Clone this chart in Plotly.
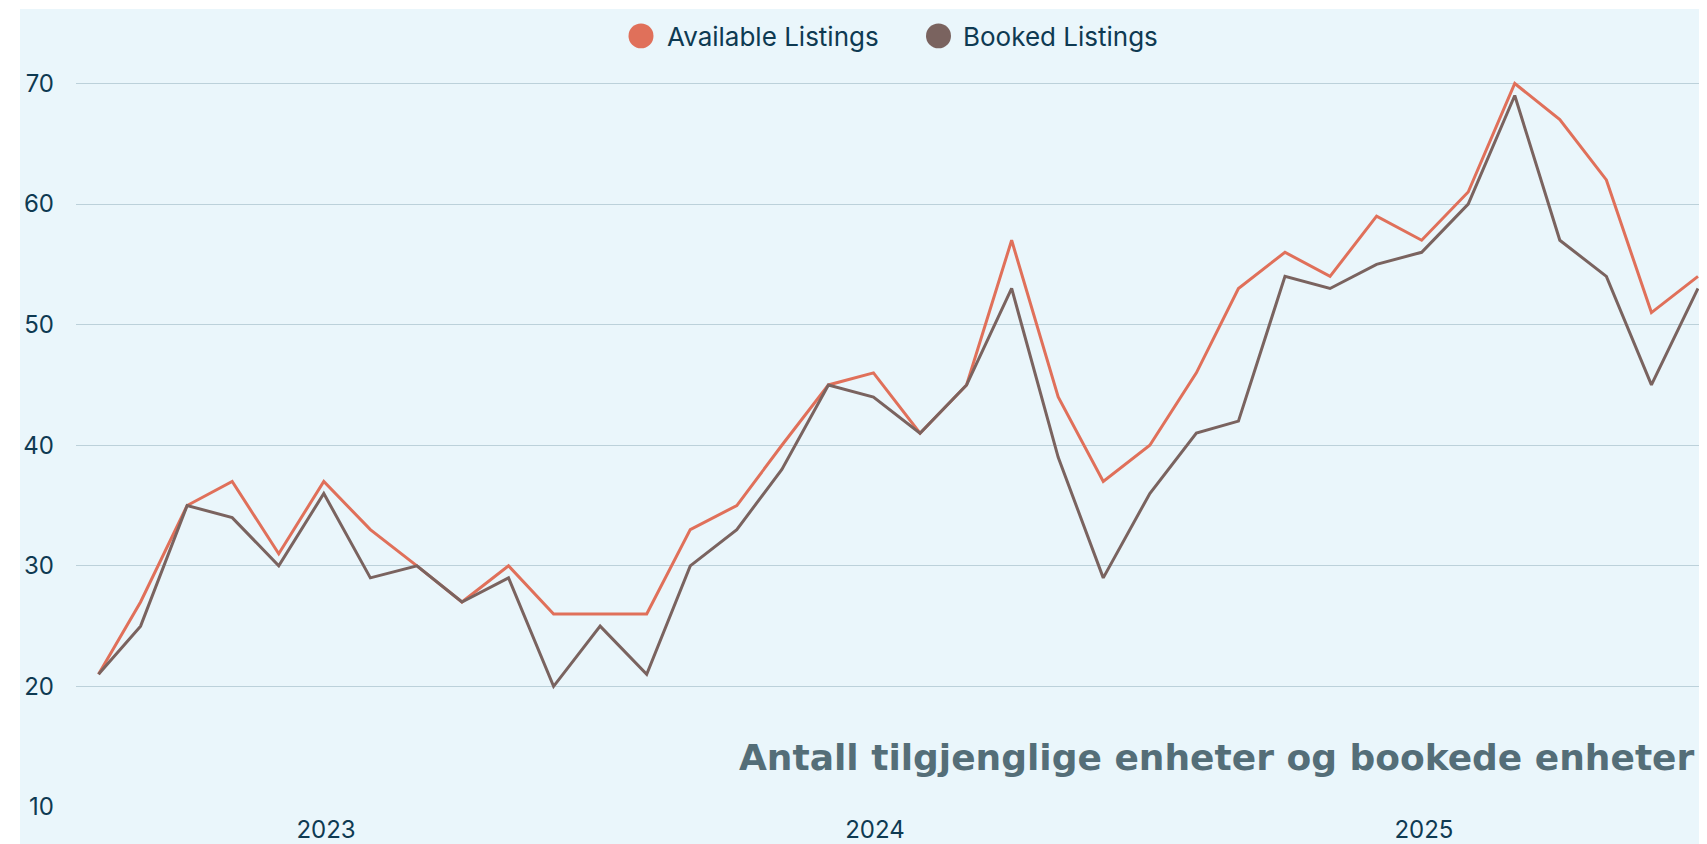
import plotly.graph_objects as go
import pandas as pd

months = pd.date_range("2023-02-01", periods=36, freq="MS")
available = [21, 27, 35, 37, 31, 37, 33, 30, 27, 30, 26, 26, 26, 33, 35, 40, 45, 46,
             41, 45, 57, 44, 37, 40, 46, 53, 56, 54, 59, 57, 61, 70, 67, 62, 51, 54]
booked = [21, 25, 35, 34, 30, 36, 29, 30, 27, 29, 20, 25, 21, 30, 33, 38, 45, 44,
          41, 45, 53, 39, 29, 36, 41, 42, 54, 53, 55, 56, 60, 69, 57, 54, 45, 53]
series_names = ["Available Listings", "Booked Listings"]
title_text = "Antall tilgjenglige enheter og bookede enheter"
y_ticks = [10, 20, 30, 40, 50, 60, 70]

BG = "#EAF6FB"
ORANGE = "#E0705A"
BROWN = "#7A635F"
NAVY = "#0E3A52"
FONT = "Inter, Poppins, Noto Sans, sans-serif"
colors = [ORANGE, BROWN]

fig = go.Figure()
for name, vals, col in zip(series_names, [available, booked], colors):
    fig.add_trace(go.Scatter(x=months, y=vals, mode="lines", name=name,
                             line=dict(color=col, width=3), showlegend=False))

# page body has an 8px margin: figure origin sits at (8, 8) in the window
OFF = 8
W, H = 1707 - OFF, 844 - OFF
L, R, T, B = 76 - OFF, 0, 18 - OFF, 33
pw, ph = W - L - R, H - T - B
PX_PER_UNIT = 12.12


def px_x(p):
    return (p - OFF - L) / pw


def px_y(p):
    return (H - B - (p - OFF)) / ph


# light panel background
fig.add_shape(type="rect", xref="paper", yref="paper",
              x0=px_x(20), x1=px_x(1707 + 10), y0=px_y(844 + 10), y1=px_y(9),
              fillcolor=BG, line=dict(width=0), layer="below")

# legend (circle swatches + labels)
legend_circle_x = [641, 938.5]
legend_text_x = [667, 963]
r = 12.5
cy = 36
for name, col, cx, tx in zip(series_names, colors, legend_circle_x, legend_text_x):
    fig.add_shape(type="circle", xref="paper", yref="paper",
                  x0=px_x(cx - r), x1=px_x(cx + r), y0=px_y(cy + r), y1=px_y(cy - r),
                  fillcolor=col, line=dict(width=0), layer="above")
    fig.add_annotation(text=name, xref="paper", yref="paper",
                       x=px_x(tx), y=px_y(cy + 1), xanchor="left", yanchor="middle",
                       showarrow=False, xshift=-2,
                       font=dict(family=FONT, size=26, color=NAVY))

fig.add_annotation(text=title_text, xref="paper", yref="paper",
                   x=px_x(1697), y=px_y(761), xanchor="right", yanchor="middle",
                   showarrow=False,
                   font=dict(family="DejaVu Sans, sans-serif", size=36,
                             color="#546E78", weight="bold"))

fig.update_layout(
    width=W, height=H,
    margin=dict(l=L, r=R, t=T, b=B, pad=0),
    paper_bgcolor="white",
    plot_bgcolor=BG,
    font=dict(family=FONT, color=NAVY, size=24),
    showlegend=False,
    xaxis=dict(type="date", range=["2023-01-17", "2026-01-07"],
               dtick="M12", tick0="2023-01-01", ticklabelmode="period",
               tickformat="%Y", showgrid=False, zeroline=False, showline=False,
               ticks="", ticklabelstandoff=6,
               tickfont=dict(size=24, color=NAVY)),
    yaxis=dict(range=[10, 10 + ph / PX_PER_UNIT], tickvals=y_ticks,
               showgrid=True, gridcolor="#BCD1DA", gridwidth=1, zeroline=False,
               showline=False, ticks="", ticklabelstandoff=21,
               tickfont=dict(size=24, color=NAVY)),
)

fig.write_html("out.html")
